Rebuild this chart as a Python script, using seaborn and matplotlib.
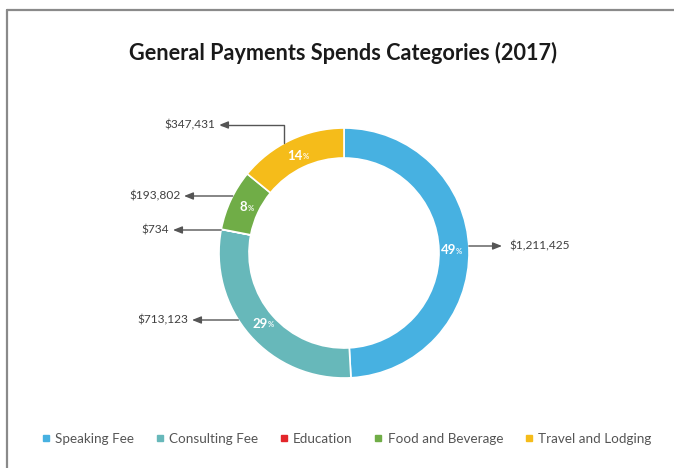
import numpy as np
import seaborn as sns
import matplotlib.pyplot as plt
from matplotlib.lines import Line2D

sns.set_theme(style="white")
plt.rcParams["font.family"] = ["Lato", "DejaVu Sans"]

# data
categories = ["Speaking Fee", "Consulting Fee", "Education", "Food and Beverage", "Travel and Lodging"]
amounts = [1211425, 713123, 734, 193802, 347431]
colors = ["#47B1E1", "#67B8BA", "#E3262A", "#70AD47", "#F5BC1A"]

W, H = 674, 468
CX, CY, R = 344, 253, 125  # ring centre and outer radius in pixels


def px(x, y):
    # pixel (from top-left) -> data units
    return (x - CX) / R, (CY - y) / R


fig = plt.figure(figsize=(W / 100, H / 100), dpi=100)
ax = fig.add_axes([0, 0, 1, 1])

wedges, _ = ax.pie(amounts, colors=colors, startangle=90, counterclock=False,
                   radius=1.0, wedgeprops=dict(width=0.24, edgecolor="white", linewidth=1.2))
ax.set_xlim(-CX / R, (W - CX) / R)
ax.set_ylim(-(H - CY) / R, CY / R)
ax.axis("off")

total = sum(amounts)
pct = [a / total * 100 for a in amounts]

# percentage labels in the ring
for w, p in zip(wedges, pct):
    if p < 1:
        continue
    ang = np.deg2rad((w.theta1 + w.theta2) / 2)
    r = 0.86
    x, y = r * np.cos(ang), r * np.sin(ang)
    t = ax.text(x - 0.025, y, f"{p:.0f}", color="white", fontsize=9.5, fontweight="bold",
                ha="center", va="center")
    ax.annotate("%", xy=(1.0, 0.12), xycoords=t, color="white", fontsize=5.5,
                fontweight="bold", ha="left", va="bottom", alpha=0.9)

# value call-outs: (label y in px, tip x in px, side)
callouts = {
    "Speaking Fee": (246, 502, "right"),
    "Consulting Fee": (320, 192, "left"),
    "Education": (230, 173, "left"),
    "Food and Beverage": (196, 184, "left"),
}
arrow = dict(arrowstyle="-|>,head_length=0.45,head_width=0.18", color="#555555",
             lw=1.0, shrinkA=0, shrinkB=0)
for cat, amt in zip(categories, amounts):
    lab = f"${amt:,}"
    if cat in callouts:
        yp, tip, side = callouts[cat]
        _, yd = px(0, yp)
        xs = np.sqrt(max(0.0, 1 - yd ** 2))
        xs = xs if side == "right" else -xs
        xt, _ = px(tip, yp)
        ax.annotate("", xy=(xt, yd), xytext=(xs, yd), arrowprops=arrow)
        off = 0.06 if side == "right" else -0.03
        ax.text(xt + off, yd, lab, ha="left" if side == "right" else "right",
                va="center", fontsize=8.6, color="#404040")
    else:
        # travel and lodging: elbow leader
        xv, yv = px(284, 125)
        ys = np.sqrt(1 - xv ** 2)
        xt, _ = px(219, 125)
        ax.annotate("", xy=(xt, yv), xytext=(xv, ys),
                    arrowprops=dict(arrow, connectionstyle="angle,angleA=90,angleB=0,rad=0"))
        ax.text(xt - 0.03, yv, lab, ha="right", va="center", fontsize=8.6, color="#404040")

fig.text(343 / W, 1 - 53 / H, "General Payments Spends Categories (2017)",
         ha="center", va="center", fontsize=15.6, fontweight="bold", color="#1a1a1a")

handles = [Line2D([], [], marker="s", linestyle="none", markersize=4.5,
                  markerfacecolor=c, markeredgecolor=c) for c in colors]
fig.legend(handles, categories, loc="center", bbox_to_anchor=(346 / W, 1 - 439 / H),
           ncol=5, frameon=False, fontsize=9.7, handletextpad=0.3, columnspacing=1.5,
           handlelength=0.8, labelcolor="#555555")

# partial frame (top and left edges)
fig.add_artist(Line2D([7 / W, 1], [1 - 9.5 / H, 1 - 9.5 / H], color="#8a8a8a", lw=1.6,
                      transform=fig.transFigure))
fig.add_artist(Line2D([7 / W, 7 / W], [0, 1 - 9.5 / H], color="#8a8a8a", lw=1.6,
                      transform=fig.transFigure))

fig.savefig("out.png", dpi=100)
